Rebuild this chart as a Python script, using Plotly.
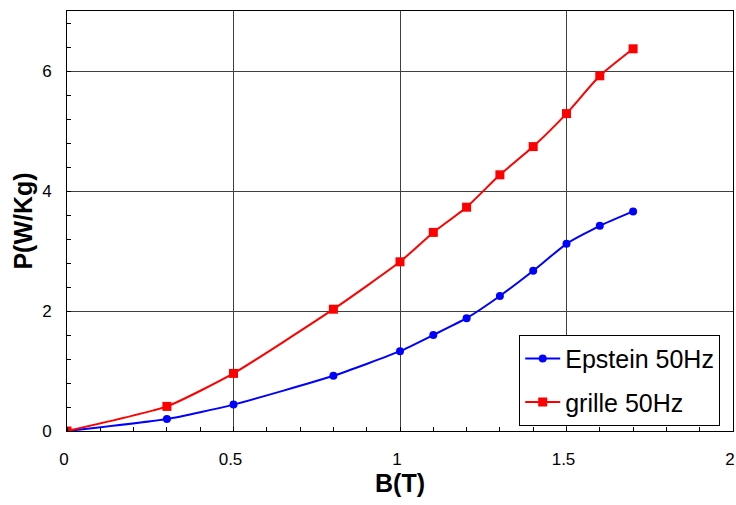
import plotly.graph_objects as go

# induction B (T)
b_epstein = [0, 0.3, 0.5, 0.8, 1.0, 1.1, 1.2, 1.3, 1.4, 1.5, 1.6, 1.7]
p_epstein = [0, 0.20, 0.44, 0.92, 1.33, 1.60, 1.88, 2.25, 2.67, 3.12, 3.42, 3.66]

b_grille = [0, 0.3, 0.5, 0.8, 1.0, 1.1, 1.2, 1.3, 1.4, 1.5, 1.6, 1.7]
p_grille = [0, 0.41, 0.96, 2.03, 2.82, 3.31, 3.73, 4.27, 4.74, 5.29, 5.92, 6.37]

x_ticks = [0, 0.5, 1, 1.5, 2]
x_labels = ["0", "0.5", "1", "1.5", "2"]
y_ticks = [0, 2, 4, 6]

font = "Arial, Liberation Sans, sans-serif"

fig = go.Figure()
fig.add_trace(go.Scatter(
    x=b_epstein, y=p_epstein, name="Epstein 50Hz", mode="lines+markers",
    legendgroup="a",
    line=dict(color="#0000ff", width=2, shape="spline", smoothing=0.5),
    marker=dict(symbol="circle", size=8, color="#0000ff"),
))
fig.add_trace(go.Scatter(
    x=b_grille, y=p_grille, name="grille 50Hz", mode="lines+markers",
    legendgroup="b",
    line=dict(color="#ff0000", width=2, shape="spline", smoothing=0.5),
    marker=dict(symbol="square", size=9, color="#ff0000"),
))

axis_common = dict(
    automargin=False,
    showline=True, linecolor="#000000", linewidth=1, mirror=True,
    showgrid=True, gridcolor="#404040", gridwidth=1,
    zeroline=False, ticklabeloverflow="allow",
    tickfont=dict(family=font, size=17, color="#000000"),
)

# major ticks are hidden under the grid; transparent outside ticks push labels off the axis
fig.update_xaxes(
    range=[0, 2], tickvals=x_ticks, ticktext=x_labels,
    ticks="outside", ticklen=13, tickcolor="rgba(0,0,0,0)",
    ticklabelshift=-3,
    minor=dict(dtick=0.1, ticks="inside", ticklen=4, tickcolor="#000000", showgrid=False),
    title=dict(text="<b>B(T)</b>", font=dict(family=font, size=25, color="#000000"), standoff=4),
    **axis_common,
)
fig.update_yaxes(
    range=[0, 7], tickvals=y_ticks,
    ticks="outside", ticklen=11, tickcolor="rgba(0,0,0,0)",
    minor=dict(dtick=0.4, ticks="inside", ticklen=4, tickcolor="#000000", showgrid=False),
    title=dict(text="<b>P(W/Kg)</b>", font=dict(family=font, size=25, color="#000000"), standoff=2),
    **axis_common,
)

fig.update_layout(
    width=736, height=505,
    margin=dict(l=67, r=3, t=11, b=74),
    paper_bgcolor="#ffffff", plot_bgcolor="#ffffff",
    font=dict(family=font, color="#000000"),
    showlegend=True,
    legend=dict(
        x=0.679, y=0.229, xanchor="left", yanchor="top",
        bgcolor="#ffffff", bordercolor="#000000", borderwidth=1,
        font=dict(family=font, size=25, color="#000000"),
        tracegroupgap=8, itemwidth=35,
    ),
)

# drop the page's default 8px body margin so the figure fills the window
fig.write_html(
    "out.html",
    config={"displayModeBar": False},
    post_script="document.body.style.margin='0';document.body.style.overflow='hidden';",
)
